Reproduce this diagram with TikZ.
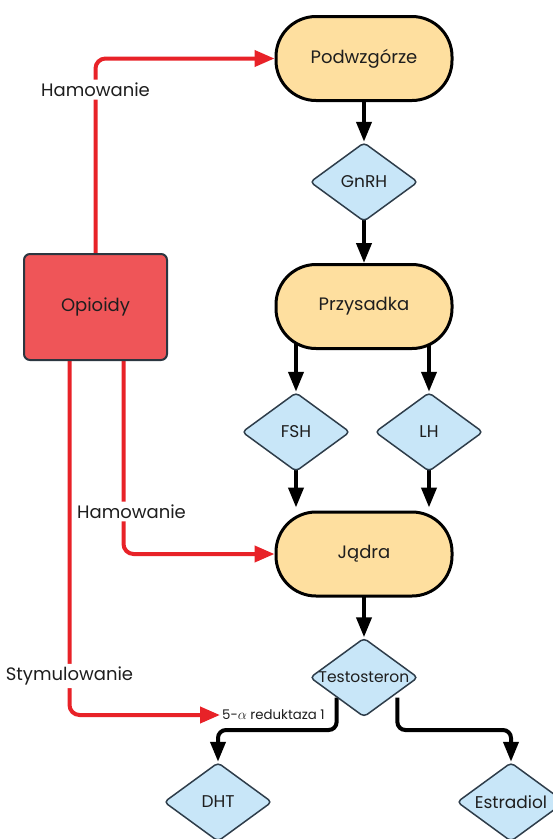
\documentclass[tikz,border=0pt]{standalone}
\usepackage{fontspec}
\setmainfont{Poppins}
\usetikzlibrary{arrows.meta,shapes.geometric,calc}
\definecolor{colOrgan}{HTML}{FEDF9F}
\definecolor{colHorm}{HTML}{C8E6F8}
\definecolor{colHormEdge}{HTML}{2E3D4A}
\definecolor{colOpi}{HTML}{EF5558}
\definecolor{colOpiEdge}{HTML}{2B3640}
\definecolor{colRed}{HTML}{E82228}
\definecolor{colInk}{HTML}{1E1E1E}
\pgfdeclarelayer{background}
\pgfsetlayers{background,main}
\begin{document}
\begin{tikzpicture}[x=1pt,y=-1pt,
  organ/.style={rectangle, draw=black, line width=3pt, fill=colOrgan, rounded corners=40pt,
    minimum width=176pt, minimum height=84pt, font=\fontsize{18}{21}\selectfont, text=colInk},
  hormone/.style={diamond, draw=colHormEdge, line width=1.5pt, fill=colHorm,
    minimum width=108pt, minimum height=79pt, inner sep=0pt, rounded corners=4pt},
  htext/.style={font=\fontsize{17}{20}\selectfont, text=colInk},
  htextsmall/.style={font=\fontsize{15.5}{18}\selectfont, text=colInk},
  drug/.style={rectangle, draw=colOpiEdge, line width=2pt, fill=colOpi, rounded corners=6pt,
    minimum width=143pt, minimum height=106pt, font=\fontsize{18}{21}\selectfont, text=colInk},
  lbl/.style={fill=white, inner sep=3pt, font=\fontsize{18}{21}\selectfont, text=colInk},
  enzlbl/.style={inner sep=2pt, font=\fontsize{13.3}{15}\selectfont, text=colInk},
  blk/.style={draw=black, line width=4pt, rounded corners=8pt, -{Triangle[length=20pt,width=15pt]}},
  redarr/.style={draw=colRed, line width=4pt, rounded corners=10pt, -{Triangle[length=20pt,width=16pt]}}
]
\useasboundingbox (0,0) rectangle (553,839);

% organs
\node[organ] (podw) at (364,58.5) {Podwzgórze};
\node[organ] (przy) at (364,306.5) {Przysadka};
\node[organ] (jadra) at (364,554) {Jądra};

% hormones
\node[hormone, label={[htext]center:GnRH}] (gnrh) at (364,182) {};
\node[hormone, label={[htext]center:FSH}] (fsh) at (296,432) {};
\node[hormone, label={[htext]center:LH}] (lh) at (429,432) {};
\node[hormone, label={[htextsmall]center:Testosteron}] (test) at (364,677.5) {};
\node[hormone, label={[htext]center:DHT}] (dht) at (218,802) {};
\node[hormone, label={[htext]center:Estradiol}] (estr) at (511,802) {};

% opioids
\node[drug] (opi) at (95.5,307) {Opioidy};

% enzyme label
\node[enzlbl, anchor=west] (enz) at (220,715) {5-$\alpha$ reduktaza 1};

\coordinate (tmid) at (364,730);

\begin{pgfonlayer}{background}
\fill[white] (0,0) rectangle (553,839);
% black flow
\draw[blk] (podw.center) -- (gnrh.north);
\draw[blk] (gnrh.center) -- (przy.north);
\draw[blk] (przy.center -| fsh.north) -- (fsh.north);
\draw[blk] (przy.center -| lh.north) -- (lh.north);
\draw[blk] (fsh.center) -- ([yshift=3pt]jadra.north -| fsh.north);
\draw[blk] (lh.center) -- ([yshift=3pt]jadra.north -| lh.north);
\draw[blk] (jadra.center) -- (test.north);
\draw[blk] (test.south west) -- (test.south west |- tmid) -| (dht.north);
\draw[blk] ([xshift=6pt]test.south east) -- ([xshift=6pt]test.south east |- tmid) -| (estr.north);
% red influences
\draw[redarr] (opi.north) |- node[lbl, pos=0.42] {Hamowanie} (podw.west);
\draw[redarr] ([xshift=28pt]opi.south) |- node[lbl, pos=0.39, xshift=8pt] {Hamowanie} (jadra.west);
\draw[redarr] ([xshift=-26pt]opi.south) |- node[lbl, pos=0.445] {Stymulowanie} (enz.west);
\end{pgfonlayer}
\end{tikzpicture}
\end{document}
